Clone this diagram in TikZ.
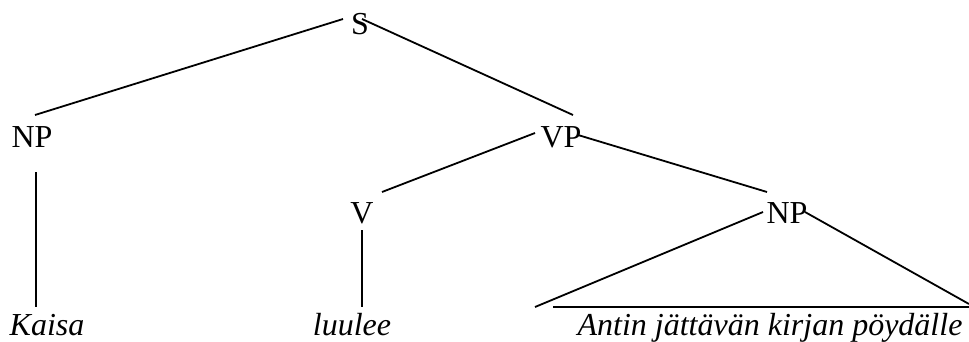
\documentclass[tikz,border=0pt]{standalone}
\usepackage{fontspec}
\setmainfont{Liberation Serif}

\begin{document}
\begin{tikzpicture}[
    x=1pt, y=1pt,
    branch/.style={line width=1.8pt},
    cat/.style={
        inner sep=0pt,
        anchor=base,
        font=\fontsize{32}{38}\selectfont
    },
    word/.style={cat, font=\fontsize{32}{38}\selectfont\itshape}
]
\useasboundingbox (0,0) rectangle (969,341);

% Nodes
\node[cat] (s) at (360,306) {S};
\node[cat] (np1) at (32,194) {NP};
\node[cat] (vp) at (561,194) {VP};
\node[cat] (v) at (362,118) {V};
\node[cat] (np2) at (787,118) {NP};
\node[word] (kaisa) at (47,6) {Kaisa};
\node[word] (luulee) at (352,6) {luulee};
\node[word] (antin) at (770,6) {Antin jättävän kirjan pöydälle};

% Edges (branches)
\draw[branch] ([shift={(-17,16)}]s.base) -- ([shift={(3,32)}]np1.base);
\draw[branch] ([shift={(2,16)}]s.base) -- ([shift={(12,32)}]vp.base);
\draw[branch] ([shift={(4,-25)}]np1.base) -- ([shift={(-11,28)}]kaisa.base);
\draw[branch] ([shift={(-26,14)}]vp.base) -- ([shift={(20,31)}]v.base);
\draw[branch] ([shift={(17,12)}]vp.base) -- ([shift={(-20,31)}]np2.base);
\draw[branch] ([shift={(0,-7)}]v.base) -- ([shift={(10,28)}]luulee.base);

% Triangle over the phrase
\draw[branch] ([shift={(-24,11)}]np2.base) -- ([shift={(-235,28)}]antin.base);
\draw[branch] ([shift={(18,11)}]np2.base) -- ([shift={(199,31)}]antin.base);
\draw[branch] ([shift={(-217,28)}]antin.base) -- ([shift={(199,28)}]antin.base);

\end{tikzpicture}
\end{document}
